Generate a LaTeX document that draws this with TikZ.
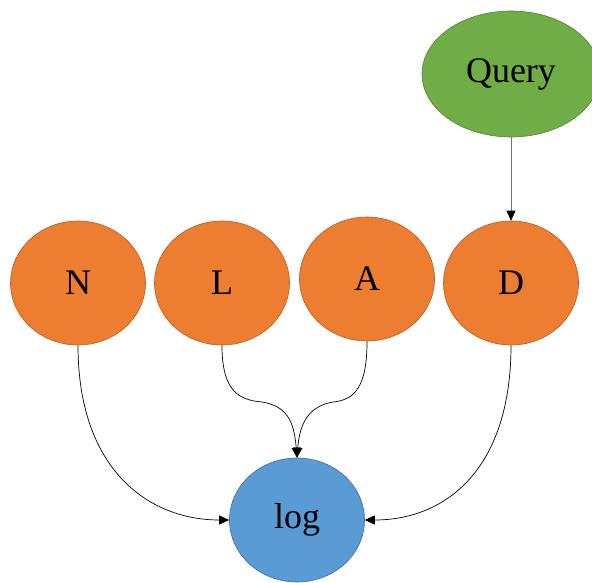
\documentclass[tikz,border=0pt]{standalone}
\usepackage{fontspec}
\setmainfont{Liberation Serif}
\usetikzlibrary{shapes.geometric,arrows.meta}

\definecolor{qgreen}{HTML}{70AD47}
\definecolor{vorange}{HTML}{ED7D31}
\definecolor{lblue}{HTML}{5B9BD5}

\tikzset{
  var/.style={ellipse, inner sep=0pt, minimum width=135, minimum height=124,
    font=\fontsize{36}{42}\selectfont},
  orangevar/.style={var, fill=vorange, draw=vorange!75!black, line width=0.6pt},
  greenvar/.style={var, fill=qgreen, draw=qgreen!75!black, line width=0.6pt,
    minimum width=178, minimum height=126},
  bluevar/.style={var, fill=lblue, draw=lblue!70!black, line width=0.6pt},
  link/.style={draw=black, line width=0.7pt,
    -{Triangle[length=10pt,width=9pt,color=black]}},
}

\begin{document}
\begin{tikzpicture}[x=1pt,y=-1pt]
  \useasboundingbox (0,0) rectangle (592,583);
  \clip (0,0) rectangle (592,583);

  % variables
  \node[greenvar]  (Q)   at (511,74)  {Query};
  \node[orangevar] (N)   at (78,283)  {N};
  \node[orangevar] (L)   at (222,283) {L};
  \node[orangevar] (A)   at (367,279) {A};
  \node[orangevar] (D)   at (511,283) {D};
  \node[bluevar]   (log) at (297,520) {log};

  % bend points of the two middle links
  \coordinate (jl) at (262,402);
  \coordinate (ja) at (333,402);

  % links
  \draw[link, draw=black!55] (Q.south) -- (D.north);
  \draw[link] (N.south) .. controls +(0,125) and +(-80,0) .. (log.west);
  \draw[link] (D.south) .. controls +(0,125) and +(80,0) .. (log.east);
  \draw[link] (L.south) .. controls +(0,45) and +(-24,-2) .. (jl)
                        .. controls +(24,4) and +(-3,-38) .. (log.north);
  \draw[link] (A.south) .. controls +(0,45) and +(22,-2) .. (ja)
                        .. controls +(-22,4) and +(3,-38) .. (log.north);
\end{tikzpicture}
\end{document}
